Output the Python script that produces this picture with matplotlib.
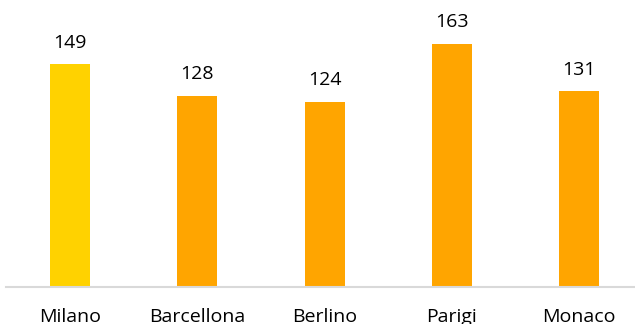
import matplotlib
matplotlib.use("Agg")
import matplotlib.pyplot as plt

cities = ["Milano", "Barcellona", "Berlino", "Parigi", "Monaco"]
values = [149, 128, 124, 163, 131]
colors = ["#FFD200", "#FFA500", "#FFA500", "#FFA500", "#FFA500"]

plt.rcParams["font.family"] = ["Open Sans", "DejaVu Sans"]

W, H = 635, 324
fig = plt.figure(figsize=(W / 100, H / 100), dpi=100)
base_px = 286.5
left_px = 6.35
cat_px = 127.3
ax = fig.add_axes([left_px / W, (H - base_px) / H, 5 * cat_px / W, base_px / H])

x = list(range(len(cities)))
ax.bar(x, values, width=40 / cat_px, color=colors)
ax.set_xlim(-0.5, len(cities) - 0.5)
ax.set_ylim(0, base_px / 1.49)

for s in ["top", "right", "left"]:
    ax.spines[s].set_visible(False)
ax.spines["bottom"].set_color("#D9D9D9")
ax.spines["bottom"].set_linewidth(1.5)
ax.set_yticks([])
ax.set_xticks([])

for xi, v in zip(x, values):
    ax.annotate(str(v), (xi, v), xytext=(0, 12), textcoords="offset points",
                ha="center", va="baseline", fontsize=14, color="#000000")
for xi, c in zip(x, cities):
    ax.annotate(c, (xi, 0), xycoords=("data", "axes fraction"), xytext=(0, -25.5),
                textcoords="offset points", ha="center", va="baseline",
                fontsize=14, color="#000000", annotation_clip=False)

fig.savefig("out.png", dpi=100)
